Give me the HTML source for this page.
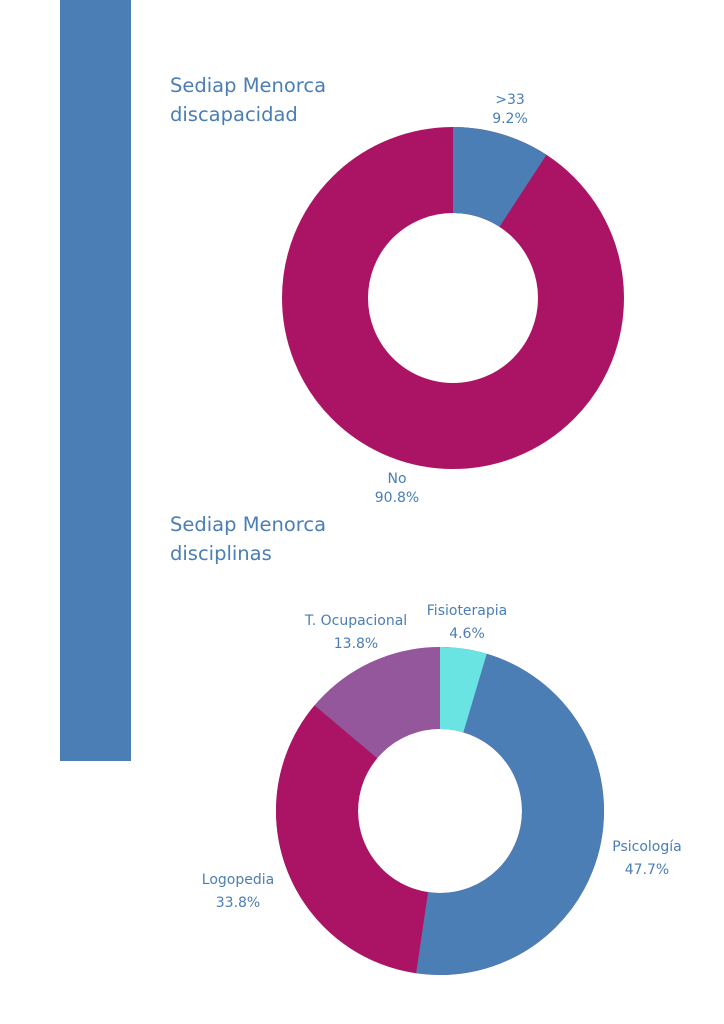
<!DOCTYPE html>
<html><head><meta charset="utf-8"><style>
html,body{margin:0;padding:0;background:#fff;}
svg{display:block;font-family:"DejaVu Sans","Liberation Sans",sans-serif;}
</style></head><body>
<svg width="724" height="1024" viewBox="0 0 724 1024">
<rect x="60" y="0" width="71" height="761" fill="#4a7eb5"/>
<g fill="#4a7eb5" font-size="19.5">
<text x="170" y="92">Sediap Menorca</text>
<text x="170" y="121">discapacidad</text>
<text x="170" y="531">Sediap Menorca</text>
<text x="170" y="560">disciplinas</text>
</g>
<g transform="rotate(-90 453 298)" fill="none" stroke-width="86">
<circle cx="453" cy="298" r="128" stroke="#ab1464"/>
<circle cx="453" cy="298" r="128" stroke="#4a7eb5" stroke-dasharray="74 1000"/>
</g>
<g transform="rotate(-90 440 811)" fill="none" stroke-width="82">
<circle cx="440" cy="811" r="123" stroke="#94579c"/>
<circle cx="440" cy="811" r="123" stroke="#ab1464" stroke-dasharray="0 404.2 261.2 1000"/>
<circle cx="440" cy="811" r="123" stroke="#4a7eb5" stroke-dasharray="0 35.55 368.65 1000"/>
<circle cx="440" cy="811" r="123" stroke="#6ae3e3" stroke-dasharray="35.55 1000"/>
</g>
<g fill="#4a7eb5" font-size="14" text-anchor="middle">
<text x="510" y="104">&gt;33</text><text x="510" y="123">9.2%</text>
<text x="397" y="483">No</text><text x="397" y="502">90.8%</text>
<text x="467" y="615">Fisioterapia</text><text x="467" y="638">4.6%</text>
<text x="356" y="625">T. Ocupacional</text><text x="356" y="648">13.8%</text>
<text x="647" y="851">Psicología</text><text x="647" y="874">47.7%</text>
<text x="238" y="884">Logopedia</text><text x="238" y="907">33.8%</text>
</g>
</svg>
</body></html>
